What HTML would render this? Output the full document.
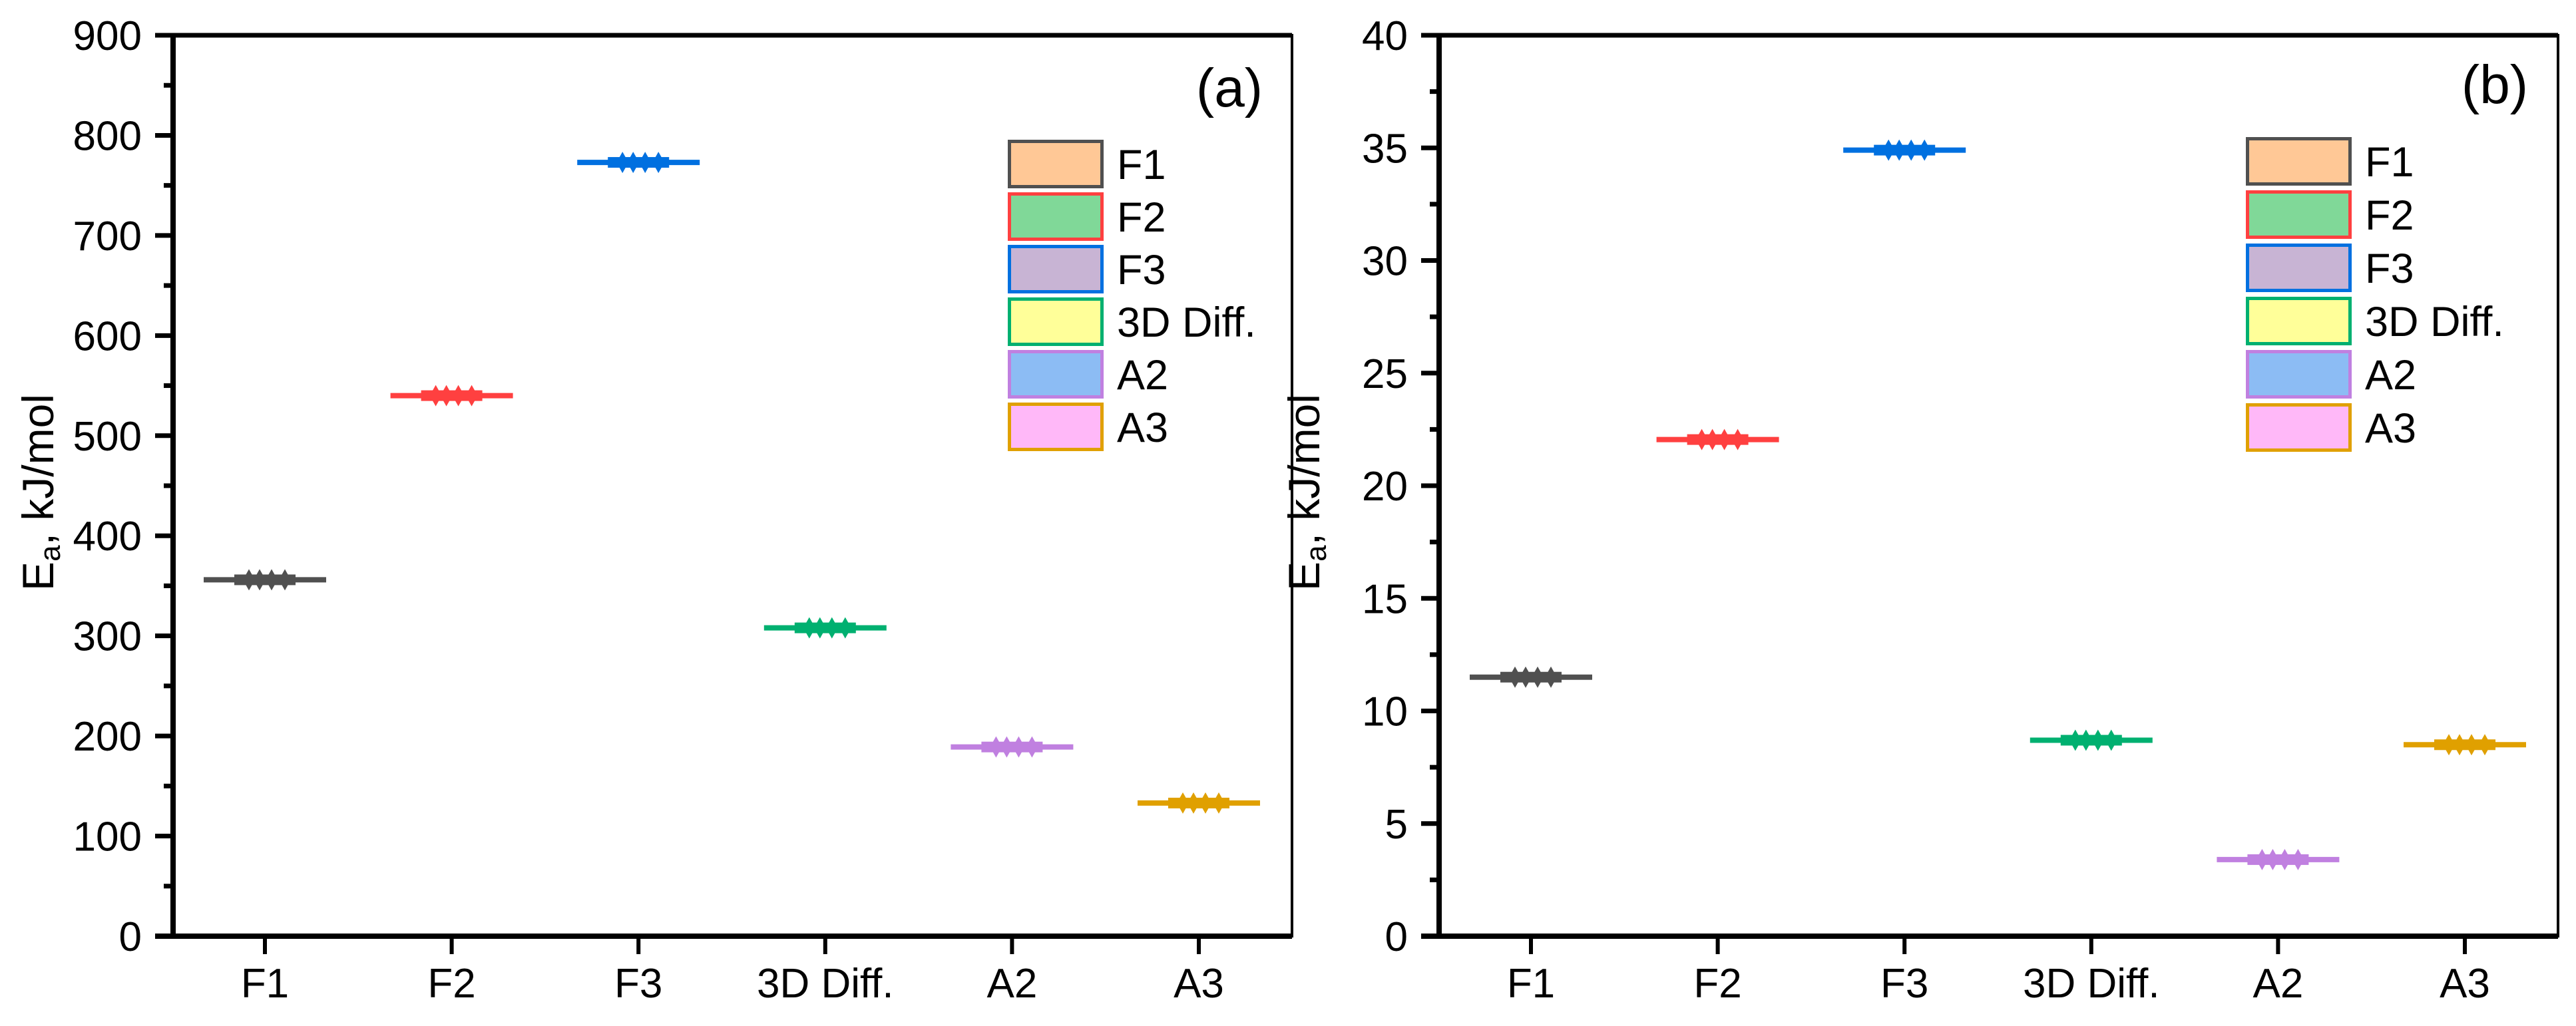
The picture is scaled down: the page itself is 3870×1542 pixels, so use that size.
<!DOCTYPE html>
<html><head><meta charset="utf-8"><style>
html,body{margin:0;padding:0;background:#fff;}
svg{display:block;font-family:"Liberation Sans",Arial,sans-serif;}
</style></head><body>
<svg id="chart" width="3870" height="1542" viewBox="0 0 3870 1542" xmlns="http://www.w3.org/2000/svg"></svg>
<script>
const categories = ["F1","F2","F3","3D Diff.","A2","A3"];
const valuesA = [356, 540, 773, 308, 189, 133];
const valuesB = [11.5, 22.05, 34.9, 8.7, 3.4, 8.5];
const ticksA = [0,100,200,300,400,500,600,700,800,900];
const ticksB = [0,5,10,15,20,25,30,35,40];
const lineColors = ["#505050","#ff4040","#0070e0","#00b070","#c080e0","#e0a000"];
const legendFills = ["#ffc896","#80d898","#c8b4d4","#ffff99","#8cbcf4","#ffb8f8"];

const NS = "http://www.w3.org/2000/svg";
const svg = document.getElementById("chart");
function mk(tag, attrs, parent){
  const e = document.createElementNS(NS, tag);
  for (const k in attrs) e.setAttribute(k, attrs[k]);
  (parent||svg).appendChild(e);
  return e;
}

function panel(cfg){
  const g = mk("g", {});
  
  
  const L = cfg.left, R = cfg.right, T = 53, B = 1407;
  const yMax = cfg.ticks[cfg.ticks.length-1];
  const y = v => B - (v / yMax) * (B - T);
  const x = i => L + 138 + i * 280.6;

  // frame
  const frame = mk("rect", {x:L, y:T, width:R-L, height:B-T, fill:"none", stroke:"#000", "stroke-width":4}, g);
  
  
  mk("line", {x1:L-27, y1:B, x2:R, y2:B, stroke:"#000", "stroke-width":8}, g);
  mk("line", {x1:L, y1:T, x2:L, y2:B, stroke:"#000", "stroke-width":8}, g);
  mk("line", {x1:L-27, y1:T, x2:R, y2:T, stroke:"#000", "stroke-width":7}, g);

  // y ticks
  cfg.ticks.forEach((t, i) => {
    const yy = y(t);
    mk("line", {x1:L-27, y1:yy, x2:L, y2:yy, stroke:"#000", "stroke-width":7}, g);
    if (i < cfg.ticks.length-1) {
      const ym = y(t + (cfg.ticks[1]-cfg.ticks[0])/2);
      mk("line", {x1:L-14, y1:ym, x2:L, y2:ym, stroke:"#000", "stroke-width":7}, g);
    }
    const lab = mk("text", {x:L-47, y:yy+22, "font-size":62, "text-anchor":"end", fill:"#000"}, g);
    lab.textContent = t;
    
    
  });

  // y title
  const yt = mk("text", {transform:`translate(${cfg.titleX},740) rotate(-90)`, "font-size":66, "text-anchor":"middle", fill:"#000"}, g);
  yt.innerHTML = 'E<tspan font-size="44" dy="10">a</tspan><tspan dy="-10">, kJ/mol</tspan>';
  
  

  // x ticks and series
  categories.forEach((c, i) => {
    const xx = x(i);
    mk("line", {x1:xx, y1:B, x2:xx, y2:B+27, stroke:"#000", "stroke-width":6}, g);
    const lab = mk("text", {x:xx, y:1499, "font-size":62, "text-anchor":"middle", fill:"#000"}, g);
    lab.textContent = c;
    
    

    const v = cfg.values[i];
    const yy = y(v);
    const col = lineColors[i];
    const s = mk("g", {}, g);
    
    
    mk("line", {x1:xx-92, y1:yy, x2:xx+92, y2:yy, stroke:col, "stroke-width":8}, s);
    mk("rect", {x:xx-46, y:yy-8, width:92, height:16, fill:col}, s);
    [-24, -8, 10, 30].forEach(dx => {
      mk("path", {d:`M${xx+dx} ${yy-16} L${xx+dx+9} ${yy} L${xx+dx} ${yy+16} L${xx+dx-9} ${yy} Z`, fill:col}, s);
    });
  });

  // panel label
  const pl = mk("text", {x:cfg.labelX, y:cfg.labelY, "font-size":82, "text-anchor":"middle", fill:"#000"}, g);
  pl.textContent = cfg.label;
  
  

  // legend
  const lg = mk("g", {}, g);
  
  
  categories.forEach((c, i) => {
    const ty = cfg.legY + i * cfg.legPitch;
    const e = mk("g", {}, lg);
    
    
    mk("rect", {x:cfg.legX+2.5, y:ty+2.5, width:cfg.legW-5, height:68, fill:legendFills[i], stroke:lineColors[i], "stroke-width":5}, e);
    const t = mk("text", {x:cfg.legX+cfg.legW+20, y:ty+59, "font-size":63, fill:"#000"}, e);
    t.textContent = c;
  });
}

panel({name:"panel-a", left:260, right:1941, ticks:ticksA, values:valuesA, titleX:80,
       label:"(a)", labelX:1847, labelY:160, legX:1514, legY:210, legW:144, legPitch:79});
panel({name:"panel-b", left:2162, right:3843, ticks:ticksB, values:valuesB, titleX:1982,
       label:"(b)", labelX:3748, labelY:155, legX:3374, legY:206, legW:159, legPitch:80});
</script>
</body></html>
